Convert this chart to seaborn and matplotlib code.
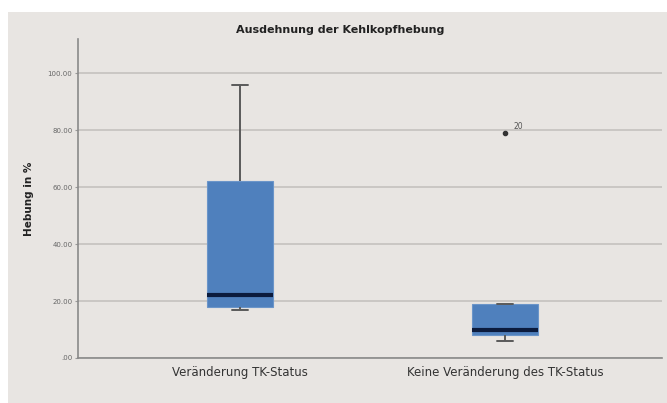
import matplotlib
matplotlib.use("Agg")
import matplotlib.pyplot as plt
from matplotlib.patches import Rectangle
import seaborn as sns
import pandas as pd
import numpy as np

# Data
categories = ["Veränderung TK-Status", "Keine Veränderung des TK-Status"]
group1_values = [17, 18, 22, 62, 96]
group2_values = [6, 8, 10, 19, 79]
outlier_label = "20"
outlier_value = 79
y_ticks = [0, 20, 40, 60, 80, 100]
y_tick_labels = [".00", "20.00", "40.00", "60.00", "80.00", "100.00"]

df = pd.DataFrame({
    "group": [categories[0]] * len(group1_values) + [categories[1]] * len(group2_values),
    "value": group1_values + group2_values,
})

sns.set_style("white")
panel = "#e8e5e2"
fig = plt.figure(figsize=(6.67, 4.03), dpi=100)
fig.patch.set_facecolor("white")
fig.patches.append(Rectangle((8 / 667, 0), 1 - 8 / 667, 1 - 12 / 403,
                             transform=fig.transFigure, facecolor=panel,
                             edgecolor="none", zorder=-10))

ax = fig.add_axes([78 / 667, 1 - 358 / 403, (662 - 78) / 667, (358 - 39) / 403])
ax.set_facecolor(panel)

sns.boxplot(data=df, x="group", y="value", order=categories, ax=ax,
            width=0.25, color="#4f80bd", whis=1.5,
            boxprops=dict(facecolor="#4f80bd", edgecolor="#6b95c9", linewidth=0.8),
            whiskerprops=dict(color="#5a5a5a", linewidth=1.4),
            capprops=dict(color="#5a5a5a", linewidth=1.4, gid="cap"),
            medianprops=dict(color="#0b1b3d", linewidth=3),
            flierprops=dict(marker="o", markersize=3, markerfacecolor="#333333",
                            markeredgecolor="#333333"),
            zorder=3)

# shrink caps to half of the box width (SPSS style)
for ln in ax.lines:
    if ln.get_gid() == "cap":
        x = np.asarray(ln.get_xdata(), dtype=float)
        c = x.mean()
        ln.set_xdata(c + (x - c) * 0.5)

ax.text(1 + 0.03, outlier_value + 0.8, outlier_label, fontsize=5.5, color="#555555",
        ha="left", va="bottom")

ax.set_xlim(-0.611, 1.592)
ax.set_ylim(0, 112)
ax.set_yticks(y_ticks)
ax.set_yticklabels(y_tick_labels)
ax.yaxis.grid(True, color="#c4c2bf", linewidth=1.2, zorder=0)
ax.set_axisbelow(True)
ax.tick_params(axis="y", labelsize=5, labelcolor="#666666", length=2, color="#999999",
               left=True, pad=2)
ax.tick_params(axis="x", labelsize=8.5, labelcolor="#333333", length=0, pad=6)
for s in ["top", "right"]:
    ax.spines[s].set_visible(False)
for s in ["left", "bottom"]:
    ax.spines[s].set_color("#8a8a8a")
    ax.spines[s].set_linewidth(1.2)

ax.set_xlabel("")
ax.set_ylabel("Hebung in %", fontsize=7.5, fontweight="bold", color="#222222", labelpad=10)

fig.text(340 / 667, 1 - 30 / 403, "Ausdehnung der Kehlkopfhebung", fontsize=8,
         fontweight="bold", color="#222222", ha="center", va="center")

fig.savefig("out.png", dpi=100)
